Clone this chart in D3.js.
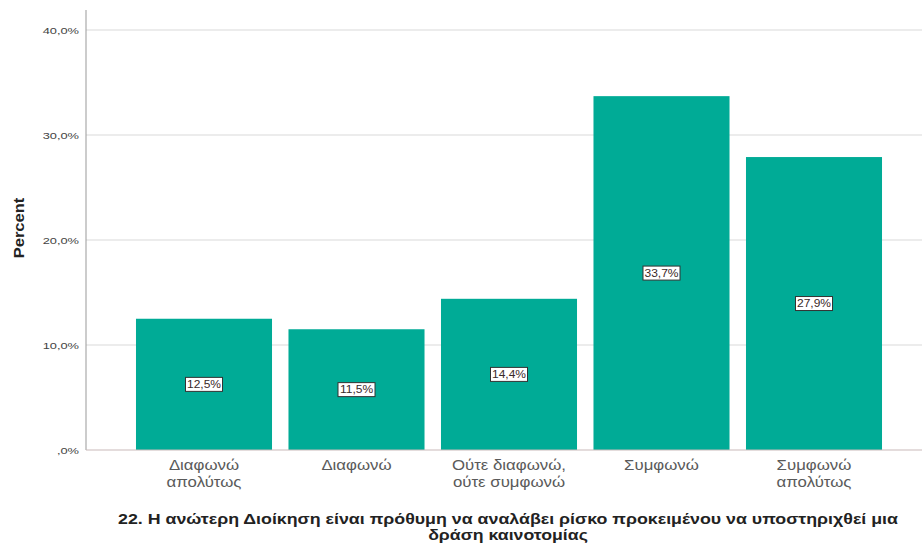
<!DOCTYPE html>
<html>
<head>
<meta charset="utf-8">
<script src="https://cdn.jsdelivr.net/npm/d3@7/dist/d3.min.js"></script>
<style>
  html, body { margin: 0; padding: 0; background: #fff; }
  svg { display: block; font-family: "Liberation Sans", Arial, sans-serif; }
</style>
</head>
<body>
<svg id="chart" width="922" height="546"></svg>
<script>
// Response categories (two-line labels) and their percentages
const categories = [
  ["Διαφωνώ", "απολύτως"],
  ["Διαφωνώ"],
  ["Ούτε διαφωνώ,", "ούτε συμφωνώ"],
  ["Συμφωνώ"],
  ["Συμφωνώ", "απολύτως"]
];
const percents = [12.5, 11.5, 14.4, 33.7, 27.9];
const yTicks = [0, 10, 20, 30, 40];
const yTickLabels = [",0%", "10,0%", "20,0%", "30,0%", "40,0%"];
const yTitle = "Percent";
const xTitle = [
  "22. Η ανώτερη Διοίκηση είναι πρόθυμη να αναλάβει ρίσκο προκειμένου να υποστηριχθεί μια",
  "δράση καινοτομίας"
];

const svg = d3.select("#chart");
const plotLeft = 86, plotRight = 922, plotTop = 10, plotBottom = 450;

// The chart's lettering is set wide; stretch each text node horizontally.
function widen(sel, factor) {
  sel.each(function () {
    const w = this.getComputedTextLength();
    d3.select(this).attr("textLength", w * factor).attr("lengthAdjust", "spacingAndGlyphs");
  });
}

const keys = categories.map(c => c.join(" "));
const x = d3.scaleBand()
  .domain(keys)
  .range([127.75, 890.25])
  .paddingInner(0.108)
  .paddingOuter(0.054);

const y = d3.scaleLinear().domain([0, 40]).range([plotBottom, 30]);

// Horizontal gridlines
svg.append("g")
  .selectAll("line")
  .data(yTicks.filter(t => t > 0))
  .join("line")
  .attr("x1", plotLeft).attr("x2", plotRight)
  .attr("y1", d => y(d)).attr("y2", d => y(d))
  .attr("stroke", "#d9d9d9").attr("stroke-width", 1);

// Y axis
const yAxis = d3.axisLeft(y)
  .tickValues(yTicks)
  .tickFormat((d, i) => yTickLabels[i])
  .tickSize(0)
  .tickPadding(7);
const gy = svg.append("g").attr("transform", `translate(${plotLeft},0)`).call(yAxis);
gy.select(".domain").remove();
const yTickText = gy.selectAll(".tick text").attr("font-size", 9.5).attr("fill", "#444")
  .attr("font-family", "'Liberation Sans', Arial, sans-serif");
widen(yTickText, 1.35);
svg.append("line")
  .attr("x1", plotLeft).attr("x2", plotLeft)
  .attr("y1", plotTop).attr("y2", plotBottom)
  .attr("stroke", "#999");

// Bars
svg.append("g")
  .selectAll("rect")
  .data(percents)
  .join("rect")
  .attr("x", (d, i) => x(keys[i]))
  .attr("width", x.bandwidth())
  .attr("y", d => y(d))
  .attr("height", d => y(0) - y(d))
  .attr("fill", "#00ab96");

// Baseline
svg.append("line")
  .attr("x1", plotLeft).attr("x2", plotRight)
  .attr("y1", plotBottom).attr("y2", plotBottom)
  .attr("stroke", "#c9b9b9");

// Value labels in boxes at bar centres
const fmt = v => v.toFixed(1).replace(".", ",") + "%";
const labels = svg.append("g")
  .selectAll("g")
  .data(percents)
  .join("g")
  .attr("transform", (d, i) =>
    `translate(${x(keys[i]) + x.bandwidth() / 2},${(y(d) + y(0)) / 2})`);
labels.append("rect")
  .attr("x", -18.5).attr("y", -7).attr("width", 37).attr("height", 14)
  .attr("fill", "#fff").attr("stroke", "#333").attr("stroke-width", 1);
const valText = labels.append("text")
  .attr("text-anchor", "middle").attr("dy", "0.36em")
  .attr("font-size", 10).attr("fill", "#3a2a2a")
  .text(d => fmt(d));
widen(valText, 1.2);

// Category labels
const cat = svg.append("g")
  .selectAll("text")
  .data(categories)
  .join("text")
  .attr("x", (d, i) => x(keys[i]) + x.bandwidth() / 2)
  .attr("y", 470)
  .attr("text-anchor", "middle")
  .attr("font-size", 14)
  .attr("fill", "#5a5a5a");
const catLines = cat.selectAll("tspan")
  .data(d => d)
  .join("tspan")
  .attr("x", function () { return d3.select(this.parentNode).attr("x"); })
  .attr("dy", (d, i) => i === 0 ? 0 : 17)
  .text(d => d);
widen(catLines, 1.2);

// Axis titles
const yt = svg.append("text")
  .attr("transform", `translate(24,${228}) rotate(-90)`)
  .attr("text-anchor", "middle")
  .attr("font-size", 14).attr("font-weight", "bold").attr("fill", "#222")
  .text(yTitle);
widen(yt, 1.18);

const xt = svg.append("g")
  .selectAll("text")
  .data(xTitle)
  .join("text")
  .attr("x", 508)
  .attr("y", (d, i) => 524 + i * 16)
  .attr("text-anchor", "middle")
  .attr("font-size", 15).attr("font-weight", "bold").attr("fill", "#222")
  .text(d => d);
// First title line spans the full width under the bars
xt.filter((d, i) => i === 0).attr("textLength", 780).attr("lengthAdjust", "spacingAndGlyphs");
widen(xt.filter((d, i) => i === 1), 1.18);
</script>
</body>
</html>
